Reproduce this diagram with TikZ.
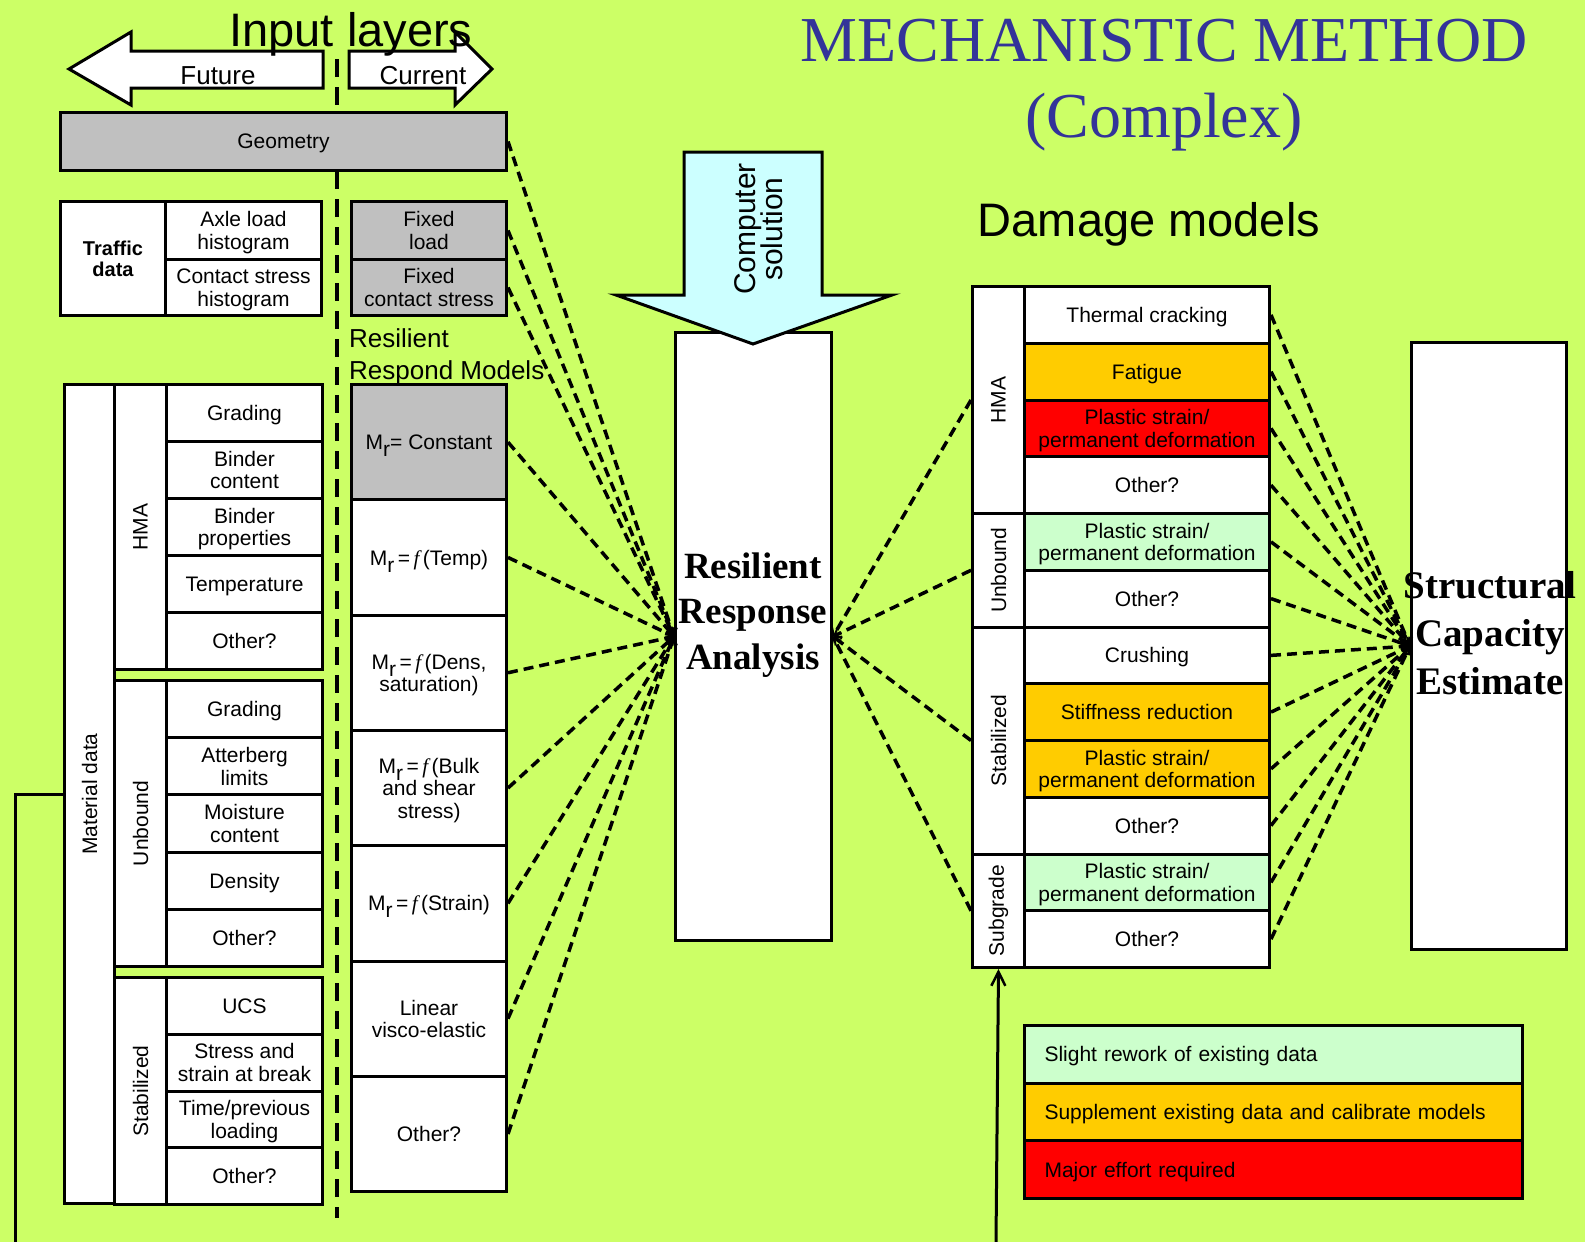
\documentclass[tikz,border=0pt]{standalone}
\usepackage{fontspec}
\setmainfont{Liberation Sans}
\newfontfamily\timesfont{Liberation Serif}
\usetikzlibrary{arrows.meta}
\definecolor{bglime}{HTML}{CCFF66}
\definecolor{boxgray}{HTML}{C0C0C0}
\definecolor{amber}{HTML}{FFCC00}
\definecolor{mint}{HTML}{CCFFCC}
\definecolor{skyc}{HTML}{CCFFFF}
\definecolor{alarm}{HTML}{FF0000}
\definecolor{titleblue}{HTML}{333399}
\newcommand\Mr{M\raisebox{-7pt}[0pt][0pt]{r}}
\newcommand\ff{{\timesfont\itshape f}}
\newcommand\plasticdef{Plastic strain/\\permanent deformation}
\tikzset{
  cell/.style={draw, line width=3pt, fill=white, anchor=north west, inner sep=0pt,
    align=center, text depth=0pt, font=\fontsize{21}{22.5}\selectfont},
  graycell/.style={cell, fill=boxgray},
  sz/.style 2 args={minimum width=#1, minimum height=#2},
  conn/.style={line width=3.5pt, dash pattern=on 10pt off 6pt,
    -{Straight Barb[length=6pt,width=11pt,line width=2pt]}},
  divider/.style={line width=4.5pt, dash pattern=on 18pt off 10pt},
  bigarrow/.style={draw, line width=3pt, line join=miter},
}
\begin{document}
\begin{tikzpicture}[x=1pt,y=-1pt]
  \fill[bglime] (0,0) rectangle (1585,1242);
  \useasboundingbox (0,0) rectangle (1585,1242);

  % input layers, future / current
  \draw[divider] (337,59) -- (337,1218);
  \draw[bigarrow, fill=white] (323,51) -- (131,51) -- (131,32) -- (69,69) -- (131,105) -- (131,88) -- (323,88) -- cycle;
  \draw[bigarrow, fill=white] (349,51) -- (455,51) -- (455,32) -- (492,69) -- (455,105) -- (455,88) -- (349,88) -- cycle;
  \node[anchor=base, font=\fontsize{26}{28}\selectfont] (futtxt) at (218,84) {Future};
  \node[anchor=base, font=\fontsize{26}{28}\selectfont] (curtxt) at (423,84) {Current};
  \node[anchor=base, font=\fontsize{47}{50}\selectfont] (inlay) at (351,46) {Input layers};

  \node[graycell, sz={446}{58}] (geom) at (59,111) {Geometry};

  % traffic
  \node[cell, sz={105}{114}, font=\bfseries\fontsize{20}{21}\selectfont] (traffic) at (59,200) {Traffic\\data};
  \node[cell, sz={156}{58}] (axle) at (164,200) {Axle load\\histogram};
  \node[cell, sz={156}{56}] (contact) at (164,258) {Contact stress\\histogram};
  \node[graycell, sz={155}{58}] (fixload) at (350,200) {Fixed\\load};
  \node[graycell, sz={155}{56}] (fixstress) at (350,258) {Fixed\\contact stress};

  \node[anchor=base west, inner sep=0pt, font=\fontsize{26}{28}\selectfont] (rrm1) at (349,347) {Resilient};
  \node[anchor=base west, inner sep=0pt, font=\fontsize{26}{28}\selectfont] (rrm2) at (349,379) {Respond Models};

  % material data
  \node[cell, sz={50}{819}] (matdata) at (63,383) {\rotatebox{90}{Material data}};
  \node[cell, sz={52}{285}] (hma) at (113,383) {\rotatebox{90}{HMA}};
  \node[cell, sz={52}{286}] (unbound) at (113,679) {\rotatebox{90}{Unbound}};
  \node[cell, sz={52}{227}] (stab) at (113,976) {\rotatebox{90}{Stabilized}};
  \foreach \txt [count=\i from 0] in {{Grading}, {Binder\\content}, {Binder\\properties}, {Temperature}, {Other?}}
    \node[cell, sz={156}{57}] (hma\i) at (165,{383+57*\i}) {\txt};
  \foreach \txt [count=\i from 0] in {{Grading}, {Atterberg\\limits}, {Moisture\\content}, {Density}, {Other?}}
    \node[cell, sz={156}{57.2}] (unb\i) at (165,{679+57.2*\i}) {\txt};
  \foreach \txt [count=\i from 0] in {{UCS}, {Stress and\\strain at break}, {Time/previous\\loading}, {Other?}}
    \node[cell, sz={156}{56.75}] (stb\i) at (165,{976+56.75*\i}) {\txt};

  % resilient response models
  \node[graycell, sz={155}{115.3}] (mr0) at (350,383) {\Mr= Constant};
  \foreach \txt [count=\i from 1] in {{\Mr\,=\,\ff\,(Temp)}, {\Mr\,=\,\ff\,(Dens,\\saturation)},
      {\Mr\,=\,\ff\,(Bulk\\and shear\\stress)}, {\Mr\,=\,\ff\,(Strain)}, {Linear\\visco-elastic}, {Other?}}
    \node[cell, sz={155}{115.3}] (mr\i) at (350,{383+115.3*\i}) {\txt};

  % analysis
  \node[cell, sz={156}{608}] (rra) at (674,331) {};
  \node[align=center, font=\timesfont\bfseries\fontsize{37}{45.5}\selectfont] (rratxt) at (753,615) {Resilient\\Response\\Analysis};
  \draw[bigarrow, fill=skyc] (684,152) -- (822,152) -- (822,295) -- (892,295) -- (753,344) -- (616,295) -- (684,295) -- cycle;
  \node[rotate=90, align=center, inner sep=0pt, font={\fontsize{30}{27}\selectfont\lineskiplimit=-20pt}] (compsol) at (759,229) {Computer\\solution};

  % damage models
  \node[anchor=base, font=\fontsize{47}{50}\selectfont] (dmtxt) at (1149,236) {Damage models};
  \node[cell, sz={52}{227}] (dhma) at (971,285) {\rotatebox{90}{HMA}};
  \node[cell, sz={52}{113.5}] (dunb) at (971,512) {\rotatebox{90}{Unbound}};
  \node[cell, sz={52}{227}] (dstab) at (971,625.5) {\rotatebox{90}{Stabilized}};
  \node[cell, sz={52}{113.5}] (dsub) at (971,852.5) {\rotatebox{90}{Subgrade}};
  \foreach \col/\txt [count=\i from 0] in {white/{Thermal cracking}, amber/{Fatigue}, alarm/\plasticdef, white/{Other?},
      mint/\plasticdef, white/{Other?}, white/{Crushing}, amber/{Stiffness reduction}, amber/\plasticdef, white/{Other?},
      mint/\plasticdef, white/{Other?}}
    \node[cell, sz={245}{56.75}, fill=\col] (dm\i) at (1023,{285+56.75*\i}) {\txt};

  \node[cell, sz={155}{607}] (sce) at (1410,341) {};

  % connectors
  \foreach \src in {geom, fixload, fixstress, mr0, mr1, mr2, mr3, mr4, mr5, mr6}
    \draw[conn] (\src.east) -- (rra.west);
  \foreach \src in {dhma, dunb, dstab, dsub}
    \draw[conn] (\src.west) -- (rra.east);
  \foreach \i in {0,...,11}
    \draw[conn] (dm\i.east) -- (sce.west);

  \node[align=center, font=\timesfont\bfseries\fontsize{39}{48}\selectfont] (scetxt) at (1490,633) {Structural\\Capacity\\Estimate};

  % legend
  \foreach \col/\txt [count=\i from 0] in {mint/{Slight rework of existing data},
      amber/{Supplement existing data and calibrate models}, alarm/{Major effort required}}
    \node[cell, fill=\col, text width=458pt, inner xsep=20pt, minimum height=57.7pt, align=left] (leg\i) at (1023,{1024+57.7*\i}) {\txt};

  % lines leaving the picture
  \coordinate (leftexit) at (15,1242);
  \coordinate (subentry) at (996,1242);
  \draw[line width=3pt] (matdata.west |- 0,794) -| (leftexit);
  \draw[line width=3pt, -{Straight Barb[length=14pt,width=14pt,line width=2.5pt]}] (subentry) -- (dsub.south);

  % title
  \node[anchor=base, text=titleblue, font=\timesfont\fontsize{64}{70}\selectfont] (ttl1) at (1164,61) {MECHANISTIC METHOD};
  \node[anchor=base, text=titleblue, font=\timesfont\fontsize{64}{70}\selectfont] (ttl2) at (1164,137) {(Complex)};
\end{tikzpicture}
\end{document}
